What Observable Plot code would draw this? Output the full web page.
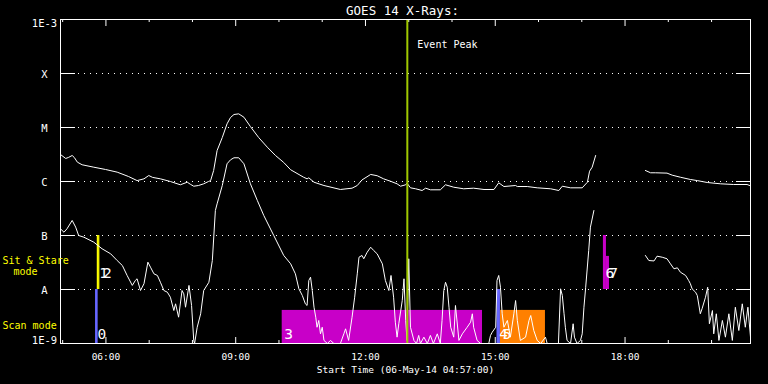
<!DOCTYPE html>
<html><head><meta charset="utf-8">
<script src="https://cdn.jsdelivr.net/npm/d3@7"></script>
<script src="https://cdn.jsdelivr.net/npm/@observablehq/plot@0.6"></script>
<style>
html,body{margin:0;padding:0;background:#000;overflow:hidden;}
g[aria-description="obs-label"] text{letter-spacing:-5px;}
</style></head>
<body><div id="chart"></div>
<script>
// ---- data (time in decimal UT hours, flux in W/m^2) ----
const titleText = "GOES 14 X-Rays:";
const xTitle = "Start Time (06-May-14 04:57:00)";
const timeDomain = [4.95, 20.9];
const majorHours = [6, 9, 12, 15, 18];
const minorHours = [5, 7, 8, 10, 11, 13, 14, 16, 17, 19, 20];
const yLevels = [1e-3, 1e-4, 1e-5, 1e-6, 1e-7, 1e-8, 1e-9];
const yLabels = ["1E-3", "X", "M", "C", "B", "A", "1E-9"];
const gridLevels = [1e-4, 1e-5, 1e-6, 1e-7, 1e-8];
const eventPeak = 12.967;

// long channel (1-8 A); null marks a data gap
const longChannel = [
[4.95,3.16e-6],[5.07,2.67e-6],[5.13,2.78e-6],[5.22,3.03e-6],[5.27,2.78e-6],[5.34,2.28e-6],[5.45,2.04e-6],
[5.72,1.84e-6],[5.99,1.67e-6],[6.26,1.49e-6],[6.52,1.24e-6],[6.72,1.04e-6],[6.88,1.12e-6],[6.99,1.29e-6],
[7.08,1.19e-6],[7.26,1.12e-6],[7.49,1.0e-6],[7.72,8.69e-7],[7.88,9.7e-7],[7.96,8.8e-7],[8.03,8.18e-7],
[8.14,8.43e-7],[8.26,9.06e-7],[8.37,1.0e-6],[8.42,1.04e-6],[8.49,1.6e-6],[8.57,3.75e-6],[8.69,6.53e-6],
[8.80,1.17e-5],[8.88,1.53e-5],[8.96,1.74e-5],[9.07,1.79e-5],[9.19,1.55e-5],[9.34,1.04e-5],[9.53,6.53e-6],
[9.73,4.32e-6],[9.92,3.03e-6],[10.11,2.25e-6],[10.27,1.65e-6],[10.57,1.2e-6],[10.65,1.12e-6],[10.69,1.17e-6],
[10.81,9.7e-7],[11.04,8.43e-7],[11.42,7.11e-7],[11.69,7.52e-7],[11.81,8.43e-7],[11.92,1.07e-6],[12.12,1.35e-6],
[12.27,1.28e-6],[12.42,1.12e-6],[12.58,1.01e-6],[12.73,9.06e-7],[12.81,8.18e-7],[12.93,8.69e-7],[12.96,9.31e-7],
[13.04,7.64e-7],[13.16,7.33e-7],[13.31,6.81e-7],[13.39,7.52e-7],[13.50,7.02e-7],[13.73,7.02e-7],[13.85,8.69e-7],
[14.04,7.84e-7],[14.27,7.33e-7],[14.50,7.52e-7],[14.74,7.11e-7],[14.97,7.11e-7],[15.08,9.46e-7],[15.20,8.07e-7],
[15.47,8.43e-7],[15.51,8.07e-7],[15.74,8.07e-7],[15.97,7.64e-7],[16.28,7.33e-7],[16.47,6.81e-7],[16.55,8.18e-7],
[16.74,7.64e-7],[17.01,7.64e-7],[17.13,9.7e-7],[17.18,1.55e-6],[17.24,1.84e-6],[17.32,3.03e-6],
[17.9,null],
[18.47,1.6e-6],[18.59,1.45e-6],[18.70,1.45e-6],[18.97,1.43e-6],[19.09,1.31e-6],[19.28,1.2e-6],[19.51,1.09e-6],
[19.67,1.04e-6],[19.90,9.58e-7],[20.21,9.06e-7],[20.51,8.8e-7],[20.82,8.8e-7],[20.90,8.32e-7]
];

// short channel (0.5-4 A); null marks a data gap
const shortChannel = [
[4.95,1.33e-7],[5.03,1.15e-7],[5.10,1.33e-7],[5.22,1.9e-7],[5.30,1.43e-7],[5.37,1.0e-7],[5.49,9.31e-8],
[5.72,7.52e-8],[5.91,5.68e-8],[6.11,4.58e-8],[6.26,3.44e-8],[6.38,2.78e-8],[6.49,1.82e-8],[6.61,1.19e-8],
[6.68,1.47e-8],[6.72,1.58e-8],[6.80,9.58e-9],[6.88,1.28e-8],[6.97,3.21e-8],[7.03,2.59e-8],[7.11,1.95e-8],
[7.19,1.82e-8],[7.26,1.36e-8],[7.34,9.58e-9],[7.42,8.91e-9],[7.49,7.2e-9],[7.57,4.08e-9],[7.61,5.43e-9],
[7.68,3.07e-9],[7.76,9.58e-9],[7.80,8.32e-9],[7.84,4.7e-9],[7.92,1.19e-8],[7.98,5.06e-9],[8.03,1.14e-9],
[8.05,1.0e-9],[8.11,2.0e-9],[8.19,3.55e-9],[8.26,9.58e-9],[8.38,1.36e-8],[8.46,3.44e-8],[8.53,2.9e-7],
[8.57,3.86e-7],[8.69,8.43e-7],[8.80,2.13e-6],[8.88,2.52e-6],[8.96,2.75e-6],[9.07,2.75e-6],[9.19,2.13e-6],
[9.34,9.06e-7],[9.50,4.45e-7],[9.65,2.34e-7],[9.88,1.0e-7],[10.11,4.27e-8],[10.27,2.99e-8],[10.38,1.95e-8],
[10.46,1.03e-8],[10.54,7.74e-9],[10.61,5.43e-9],[10.65,5.06e-9],[10.69,1.47e-8],[10.73,1.69e-8],[10.77,9.58e-9],
[10.81,4.7e-9],[10.85,3.07e-9],[10.88,2.0e-9],[10.92,2.67e-9],[10.96,1.51e-9],[11.00,2.0e-9],[11.04,1.14e-9],
[11.12,1.0e-9],[11.19,1.14e-9],[11.27,1.0e-9],[11.42,1.0e-9],[11.50,1.51e-9],[11.54,1.87e-9],[11.61,1.14e-9],
[11.69,3.07e-9],[11.75,7.2e-9],[11.81,1.95e-8],[11.85,3.96e-8],[11.92,4.27e-8],[11.96,3.71e-8],[12.04,4.91e-8],
[12.12,6.07e-8],[12.19,5.27e-8],[12.27,4.58e-8],[12.39,2.99e-8],[12.46,1.47e-8],[12.54,9.58e-9],[12.59,1.82e-8],
[12.65,7.2e-9],[12.69,2.48e-9],[12.73,1.31e-9],[12.77,2.32e-9],[12.85,6.25e-9],[12.89,1.58e-8],[12.93,2.67e-9],
[12.96,1.14e-9],[13.00,3.71e-8],[13.04,2.0e-9],[13.12,1.14e-9],[13.18,1.0e-9],[13.23,1.41e-9],[13.27,1.0e-9],
[13.35,1.31e-9],[13.43,1.0e-9],[13.50,1.41e-9],[13.57,1.0e-9],[13.66,1.51e-9],[13.73,1.0e-9],[13.77,2.67e-9],
[13.81,9.58e-9],[13.85,1.36e-8],[13.89,1.1e-8],[13.93,4.7e-9],[13.97,2.0e-9],[14.04,1.31e-9],[14.08,5.06e-9],
[14.16,1.14e-9],[14.24,1.51e-9],[14.35,2.0e-9],[14.43,2.48e-9],[14.47,3.55e-9],[14.50,2.0e-9],[14.58,1.14e-9],
[14.66,1.0e-9],[14.85,1.0e-9],[14.89,1.41e-9],[14.93,1.62e-9],[15.01,2.0e-9],[15.04,1.47e-8],[15.08,1.82e-8],
[15.12,1.1e-8],[15.16,3.55e-9],[15.20,2.0e-9],[15.28,2.67e-9],[15.35,1.31e-9],[15.43,3.55e-9],[15.47,6.25e-9],
[15.51,2.67e-9],[15.58,1.14e-9],[15.70,1.31e-9],[15.78,2.67e-9],[15.82,3.3e-9],[15.89,1.74e-9],[15.97,1.14e-9],
[16.05,1.0e-9],[16.16,1.31e-9],[16.20,1.0e-9],[16.46,1.0e-9],[16.51,1.03e-8],[16.55,7.74e-9],[16.59,3.55e-9],
[16.62,2.0e-9],[16.66,1.14e-9],[16.74,1.0e-9],[16.80,2.32e-9],[16.83,1.31e-9],[16.89,1.0e-9],[16.97,1.14e-9],
[17.01,1.51e-9],[17.05,4.7e-9],[17.09,1.1e-8],[17.16,5.27e-8],[17.20,1.43e-7],[17.28,2.9e-7],
[17.9,null],
[18.47,4.27e-8],[18.55,3.44e-8],[18.67,3.38e-8],[18.74,4.14e-8],[18.86,3.96e-8],[18.97,3.71e-8],[19.05,2.99e-8],
[19.13,2.42e-8],[19.21,2.52e-8],[19.28,2.09e-8],[19.40,1.82e-8],[19.47,1.47e-8],[19.51,1.28e-8],[19.55,1.03e-8],
[19.63,8.91e-9],[19.67,7.74e-9],[19.74,3.55e-9],[19.78,4.4e-9],[19.86,7.2e-9],[19.91,1.1e-8],[19.95,2.32e-9],
[20.02,4.08e-9],[20.05,1.51e-9],[20.11,3.55e-9],[20.17,1.14e-9],[20.25,2.67e-9],[20.32,1.31e-9],[20.40,3.55e-9],
[20.48,1.14e-9],[20.55,4.7e-9],[20.63,1.74e-9],[20.71,5.43e-9],[20.78,2.0e-9],[20.84,4.7e-9],[20.90,1.31e-9]
];

// observations
const obsId    = ["0", "1", "2", "3", "4", "5", "6", "7"];
const obsGroup = [0, 1, 1, 2, 3, 3, 4, 4];
const obsMode  = ["scan", "sit", "sit", "scan", "scan", "scan", "sit", "sit"];
const obsStart = [5.76, 5.80, 5.83, 10.075, 15.04, 15.12, 17.50, 17.57];
const obsEnd   = [5.82, 5.83, 5.86, 14.705, 15.12, 16.16, 17.57, 17.64];
const obsLow   = [1e-9, 1e-8, 1e-8, 1e-9, 1e-9, 1e-9, 1e-8, 1e-8];
const obsHigh  = [1e-8, 1e-7, 1e-7, 4.1e-9, 1e-8, 4.1e-9, 1e-7, 4.1e-8];
const obsColor = ["#6666ff", "#ffff00", "#ffff00", "#c800c8", "#6666ff", "#ff8000", "#c800c8", "#c800c8"];

const modeLabels = [
  {text: "Sit & Stare", level: Math.sqrt(1e-8 * 1e-7), dx: -58, dy: 1},
  {text: "mode", level: Math.sqrt(1e-8 * 1e-7), dx: -47, dy: 12},
  {text: "Scan mode", level: Math.sqrt(1e-9 * 1e-8), dx: -58, dy: 12}
];

// ---- build ----
const longData = longChannel.map(([t, f]) => ({t, f}));
const shortData = shortChannel.map(([t, f]) => ({t, f}));
const obs = obsId.map((id, i) => ({id, mode: obsMode[i], x1: obsStart[i], x2: obsEnd[i], y1: obsLow[i], y2: obsHigh[i], color: obsColor[i]}));
// one label per group of overlapping observations (ids written together)
const obsLabels = d3.groups(obs.map((d, i) => ({...d, g: obsGroup[i]})), d => d.g)
  .map(([, ds]) => ({text: ds.map(d => d.id).join(""), x: ds[0].x1, y: ds[0].y1, mode: ds[0].mode}));
const yTicks = yLevels.map((v, i) => ({v, label: yLabels[i]}));
const hh = h => String(h).padStart(2, "0") + ":00";

const FONT = "DejaVu Sans Mono";
const FH = 324, FW = 690;

const chart = Plot.plot({
  width: 768, height: 384,
  marginLeft: 60, marginRight: 18, marginTop: 19, marginBottom: 41,
  style: {background: "black", color: "white", fontFamily: FONT, fontSize: "10px"},
  x: {domain: timeDomain, axis: null},
  y: {type: "log", domain: [1e-9, 1e-3], axis: null},
  marks: [
    Plot.ruleY(gridLevels, {y: d => d, stroke: "white", strokeWidth: 1, strokeDasharray: "1,5"}),
    Plot.ruleY(yLevels, {y: d => d, stroke: "white", insetRight: FW - 15}),
    Plot.ruleY(yLevels, {y: d => d, stroke: "white", insetLeft: FW - 14}),
    Plot.ruleX(majorHours, {x: d => d, stroke: "white", insetTop: FH - 6}),
    Plot.ruleX(majorHours, {x: d => d, stroke: "white", insetBottom: FH - 7}),
    Plot.ruleX(minorHours, {x: d => d, stroke: "white", insetTop: FH - 3}),
    Plot.ruleX(minorHours, {x: d => d, stroke: "white", insetBottom: FH - 3}),
    Plot.rect(obs, {x1: "x1", x2: "x2", y1: "y1", y2: "y2", fill: "color"}),
    Plot.line(longData, {x: "t", y: "f", stroke: "white", strokeWidth: 1, curve: "linear"}),
    Plot.line(shortData, {x: "t", y: "f", stroke: "white", strokeWidth: 1, curve: "linear"}),
    Plot.ruleX([eventPeak], {x: d => d, stroke: "#a0c800", strokeWidth: 2}),
    Plot.frame({stroke: "white"}),
    // texts
    Plot.text([titleText], {frameAnchor: "top", text: d => d, dx: -3, dy: -5, lineAnchor: "bottom", fontSize: 12.5, fill: "white", fontFamily: FONT}),
    Plot.text(["Event Peak"], {x: () => eventPeak, frameAnchor: "top", text: d => d, textAnchor: "start", dx: 10, dy: 28, lineAnchor: "bottom", fontSize: 10, fill: "white", fontFamily: FONT}),
    Plot.text(majorHours, {x: d => d, frameAnchor: "bottom", text: hh, dy: 16, lineAnchor: "bottom", fontSize: 9.5, fill: "white", fontFamily: FONT}),
    Plot.text([xTitle], {frameAnchor: "bottom", text: d => d, dy: 29, lineAnchor: "bottom", fontSize: 9.5, fill: "white", fontFamily: FONT}),
    Plot.text(yTicks.slice(1, -1), {y: "v", frameAnchor: "left", text: "label", dx: -16, dy: 1.5, textAnchor: "middle", lineAnchor: "middle", fontSize: 10.5, fill: "white", fontFamily: FONT}),
    Plot.text(yTicks.slice(0, 1), {y: "v", frameAnchor: "left", text: "label", dx: -16, dy: 4, textAnchor: "middle", lineAnchor: "middle", fontSize: 10.5, fill: "white", fontFamily: FONT}),
    Plot.text(yTicks.slice(-1), {y: "v", frameAnchor: "left", text: "label", dx: -16, dy: -3, textAnchor: "middle", lineAnchor: "middle", fontSize: 10.5, fill: "white", fontFamily: FONT}),
    ...modeLabels.map(m => Plot.text([m], {y: "level", frameAnchor: "left", text: "text", dx: m.dx, dy: m.dy, textAnchor: "start", lineAnchor: "bottom", fontSize: 10, fill: "#ffff00", fontFamily: FONT})),
    Plot.text(obsLabels.filter(d => d.mode === "scan"), {x: "x", y: "y", text: "text", dx: 2, dy: -5, textAnchor: "start", lineAnchor: "bottom", fontSize: 14.5, fill: "white", fontFamily: FONT, ariaDescription: "obs-label"}),
    Plot.text(obsLabels.filter(d => d.mode === "sit"), {x: "x", y: "y", text: "text", dx: 2, dy: -12, textAnchor: "start", lineAnchor: "bottom", fontSize: 14.5, fill: "white", fontFamily: FONT, ariaDescription: "obs-label"})
  ]
});
// overlapping ids are drawn squeezed together, as in the original plot
const groupTexts = new Set(obsLabels.map(d => d.text).filter(t => t.length > 1));
chart.querySelectorAll("text").forEach(t => {
  if (groupTexts.has(t.textContent)) { t.setAttribute("letter-spacing", "-5"); t.style.letterSpacing = "-5px"; }
});
document.getElementById("chart").append(chart);
</script>
</body></html>
